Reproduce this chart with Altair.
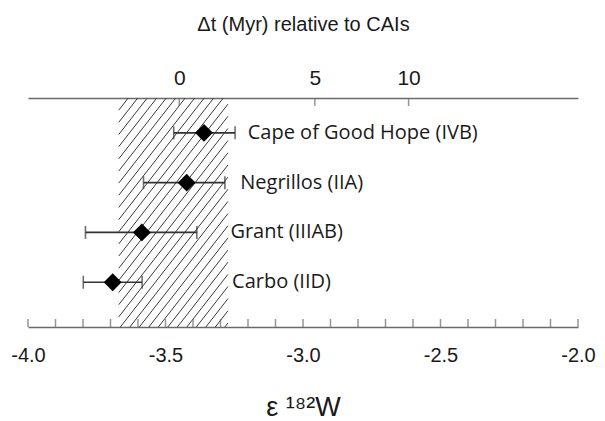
import altair as alt
import pandas as pd
import math

# ---- data ----
meteorites = ["Cape of Good Hope (IVB)", "Negrillos (IIA)", "Grant (IIIAB)", "Carbo (IID)"]
row = [4, 3, 2, 1]
eps_mean = [-3.360, -3.423, -3.586, -3.692]
eps_lo = [-3.470, -3.580, -3.791, -3.799]
eps_hi = [-3.247, -3.284, -3.386, -3.585]
label_x = [-3.201, -3.228, -3.264, -3.258]

band_lo, band_hi = -3.670, -3.273          # hatched CAI band (epsilon 182W)

top_tick_eps = [-3.450, -2.957, -2.616]    # positions of Δt ticks on the epsilon scale
top_tick_labels = ["0", "5", "10"]

bottom_label_values = [-4.0, -3.5, -3.0, -2.5, -2.0]
bottom_tick_values = [round(-4.0 + 0.1 * i, 1) for i in range(21)]

X_DOMAIN = [-4.0, -2.0]
Y_DOMAIN = [0.1, 4.7]
W, H = 550, 229

df = pd.DataFrame({
    "name": meteorites, "row": row, "mean": eps_mean,
    "lo": eps_lo, "hi": eps_hi, "lx": label_x,
})
top_df = pd.DataFrame({"eps": top_tick_eps, "lab": top_tick_labels})
bt_df = pd.DataFrame({"eps": bottom_tick_values})

# ---- hatch pattern segments inside the band ----
px_x = W / (X_DOMAIN[1] - X_DOMAIN[0])
px_y = H / (Y_DOMAIN[1] - Y_DOMAIN[0])
bw = (band_hi - band_lo) * px_x
t = math.tan(math.radians(52))
spacing = 9.5
segs = []
c = -H / t
while c < bw:
    y0 = max(0.0, (0 - c) * t)
    y1 = min(H, (bw - c) * t)
    if y1 > y0:
        xa = c + y0 / t
        xb = c + y1 / t
        segs.append({
            "x1": band_lo + xa / px_x, "x2": band_lo + xb / px_x,
            "y1": Y_DOMAIN[0] + y0 / px_y, "y2": Y_DOMAIN[0] + y1 / px_y,
        })
    c += spacing
hatch_df = pd.DataFrame(segs)

xs = alt.Scale(domain=X_DOMAIN, nice=False, zero=False)
ys = alt.Scale(domain=Y_DOMAIN, nice=False, zero=False)

AX_FONT = "Liberation Sans"
LAB_FONT = "Open Sans"
INK = "#1a1a1a"
AXIS_COL = "#6a6a6a"

bottom_axis = alt.Axis(
    orient="bottom", values=bottom_label_values,
    labelExpr="replace(format(datum.value, '.1f'), '\u2212', '-')",
    ticks=False, tickSize=0, grid=False, domain=True, labelFlush=False,
    domainColor=AXIS_COL, domainWidth=1.6,
    labelFont=AX_FONT, labelFontSize=20, labelColor=INK, labelPadding=18,
    title="ε ¹⁸²W", titleFont=AX_FONT, titleFontSize=27, titleFontWeight="normal",
    titleColor=INK, titlePadding=29,
)

expr = "''"
for v, l in zip(reversed(top_tick_eps), reversed(top_tick_labels)):
    expr = f"abs(datum.value - ({v})) < 0.0005 ? '{l}' : " + expr
top_axis = alt.Axis(
    orient="top", values=top_tick_eps, labelExpr=expr,
    ticks=False, tickSize=0, grid=False, domain=True, labelFlush=False,
    domainColor=AXIS_COL, domainWidth=1.6,
    labelFont=AX_FONT, labelFontSize=21, labelColor=INK, labelPadding=10,
    title="Δt (Myr) relative to CAIs", titleFont=AX_FONT, titleFontSize=20,
    titleFontWeight="normal", titleColor=INK, titlePadding=33,
)

hatch = alt.Chart(hatch_df).mark_rule(color="#3a3a3a", strokeWidth=1).encode(
    x=alt.X("x1:Q", scale=xs, axis=bottom_axis),
    x2="x2:Q",
    y=alt.Y("y1:Q", scale=ys, axis=None),
    y2="y2:Q",
)

top_ticks = alt.Chart(top_df).mark_tick(color=AXIS_COL, thickness=1.5, size=8).encode(
    x=alt.X("eps:Q", scale=xs, axis=top_axis),
    y=alt.value(4),
)

bottom_ticks = alt.Chart(bt_df).mark_tick(color=AXIS_COL, thickness=1.5, size=8).encode(
    x=alt.X("eps:Q", scale=xs, axis=None),
    y=alt.value(H - 4),
)

base = alt.Chart(df)
err = base.mark_rule(color="#333333", strokeWidth=1.6).encode(
    x=alt.X("lo:Q", scale=xs, axis=None), x2="hi:Q",
    y=alt.Y("row:Q", scale=ys, axis=None),
)
cap_lo = base.mark_tick(color="#333333", thickness=1.6, size=13, orient="vertical").encode(
    x=alt.X("lo:Q", scale=xs, axis=None), y=alt.Y("row:Q", scale=ys, axis=None),
)
cap_hi = base.mark_tick(color="#333333", thickness=1.6, size=13, orient="vertical").encode(
    x=alt.X("hi:Q", scale=xs, axis=None), y=alt.Y("row:Q", scale=ys, axis=None),
)
pts = base.mark_point(shape="diamond", filled=True, color="black", size=320, opacity=1).encode(
    x=alt.X("mean:Q", scale=xs, axis=None), y=alt.Y("row:Q", scale=ys, axis=None),
)
labels = base.mark_text(align="left", baseline="middle", font=LAB_FONT, fontSize=20, color=INK).encode(
    x=alt.X("lx:Q", scale=xs, axis=None), y=alt.Y("row:Q", scale=ys, axis=None),
    text="name:N",
)

chart = alt.layer(hatch, top_ticks, bottom_ticks, err, cap_lo, cap_hi, pts, labels).resolve_axis(
    x="independent"
).properties(
    width=W, height=H, autosize="none",
    padding={"left": 20, "top": 90, "right": 19, "bottom": 94},
).configure_view(stroke=None)

chart.save("out.html", embed_options={"renderer": "svg", "actions": False})
